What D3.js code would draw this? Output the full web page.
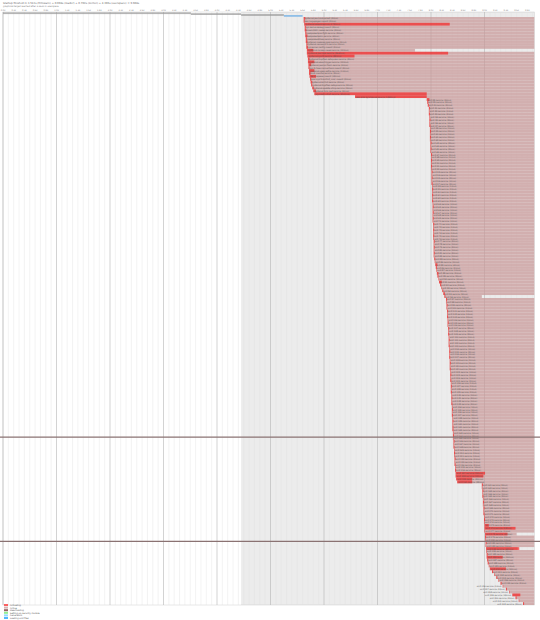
<!DOCTYPE html>
<html><head><meta charset="utf-8">
<script src="https://cdn.jsdelivr.net/npm/d3@7"></script>
<style>body{margin:0;background:#fff}text{font-family:"DejaVu Sans",sans-serif}</style>
</head><body><svg id="c" width="540" height="620"></svg>
<script>
const title = "Startup finished in 3.512s (firmware) + 0.998s (loader) + 0.702s (kernel) + 4.396s (userspace) = 9.608s";
const subtitle = "graphical.target reached after 4.352s in userspace";
const bootPhases = ["firmware","loader","kernel","initrd"];
const bootStart = [0, 3.512, 4.45, 5.25];
const bootEnd = [3.512, 4.45, 5.25, 5.60];
const starts = [
5.62,5.62,5.63,5.64,5.64,5.65,5.65,5.66,5.66,5.67,5.67,5.68,5.68,5.69,5.70,5.70,5.71,5.71,5.72,5.72,5.73,5.74,5.75,5.76,5.78,5.80,5.82,6.58,
7.92,7.93,7.94,
7.96,7.96,7.96,7.97,7.97,7.97,7.97,7.98,7.98,7.98,7.98,7.98,7.99,7.99,7.99,7.99,8.00,8.00,8.00,8.00,8.00,8.00,8.01,8.01,8.01,8.01,8.01,8.02,8.02,8.02,8.02,8.02,8.02,8.03,8.03,8.03,8.03,8.03,8.03,8.03,8.04,8.04,8.04,8.04,8.04,8.04,8.05,8.05,8.05,8.05,8.05,8.05,
8.06,8.07,8.08,8.09,8.10,8.11,8.12,8.14,8.15,8.17,8.19,8.21,8.23,8.25,
8.28,8.28,8.29,8.29,8.30,8.30,8.30,8.31,8.31,8.31,8.32,8.32,8.32,8.33,8.33,8.33,8.33,8.34,8.34,8.34,8.34,8.35,8.35,8.35,8.35,8.36,8.36,8.36,8.36,8.37,8.37,8.37,8.37,8.38,8.38,8.38,8.38,8.39,8.39,8.39,8.39,8.40,8.40,8.40,8.40,
8.40,8.41,8.41,8.41,8.42,8.42,8.42,8.43,8.43,8.43,8.44,8.44,8.44,8.45,8.45,
8.46,8.46,8.47,8.49,
8.95,8.95,8.96,8.96,8.96,8.97,8.97,8.97,8.98,8.98,8.98,8.99,8.99,8.99,9.00,9.00,9.00,9.01,9.01,9.01,9.02,9.02,9.03,9.03,9.04,9.04,9.05,
9.06,9.08,9.10,9.14,9.18,9.22,9.26,9.30,9.34,9.40,9.46,9.52,9.58,9.64,9.72];
const actDur = [
0.03,0.02,2.72,0.02,0.03,0.02,0.04,0.02,0.03,0.02,0.03,0.12,2.64,0.88,0.03,0.12,0.05,0.02,0.10,0.03,0.12,0.02,0.03,0.02,0.03,0.05,2.10,1.34,
0.05,0.02,0.02,
0.02,0.01,0.02,0.01,0.02,0.01,0.02,0.01,0.02,0.01,0.02,0.01,0.02,0.01,0.02,0.01,0.02,0.01,0.02,0.01,0.02,0.01,0.02,0.01,0.02,0.01,0.02,0.01,0.02,0.01,0.02,0.01,0.02,0.01,0.02,0.01,0.02,0.01,0.02,0.01,0.02,0.01,0.02,0.01,0.02,0.01,0.02,0.01,0.02,0.01,0.02,0.01,
0.02,0.01,0.04,0.02,0.01,0.03,0.02,0.01,0.05,0.02,0.01,0.02,0.03,0.02,
0.02,0.01,0.02,0.01,0.02,0.01,0.02,0.01,0.02,0.01,0.02,0.01,0.02,0.01,0.02,0.01,0.02,0.01,0.02,0.01,0.02,0.01,0.02,0.01,0.02,0.01,0.02,0.01,0.02,0.01,0.02,0.01,0.02,0.01,0.02,0.01,0.02,0.01,0.02,0.01,0.02,0.01,0.02,0.01,0.02,
0.02,0.01,0.02,0.01,0.02,0.01,0.02,0.01,0.02,0.01,0.02,0.01,0.02,0.01,0.02,
0.55,0.52,0.30,0.28,
0.02,0.01,0.02,0.01,0.02,0.01,0.02,0.01,0.02,0.01,0.02,0.01,0.02,0.01,0.08,0.58,0.01,0.42,0.02,0.01,0.02,0.01,0.62,0.01,0.02,0.30,0.02,
0.02,0.01,0.30,0.02,0.01,0.02,0.01,0.02,0.01,0.02,0.01,0.15,0.02,0.01,0.02];
const shortRows = [[11,7.70],[96,8.95],[178,9.60],[183,9.62]];
const unitNames = ["systemd-journald.socket","dev-hugepages.mount","systemd-udevd.service","sys-kernel-debug.mount","kmod-static-nodes.service","modprobe@configfs.service","modprobe@drm.service","modprobe@fuse.service","systemd-modules-load.service","systemd-remount-fs.service","sys-kernel-config.mount","systemd-random-seed.service","systemd-journald.service","systemd-sysctl.service","systemd-tmpfiles-setup-dev.service","systemd-udev-trigger.service","systemd-journal-flush.service","sys-fs-fuse-connections.mount","systemd-udev-settle.service","lvm2-monitor.service","dev-mqueue.mount","proc-sys-fs-binfmt_misc.mount","systemd-binfmt.service","systemd-tmpfiles-setup.service","systemd-update-utmp.service","systemd-fsck-root.service","plymouth-start.service","dev-disk-by\\x2duuid.device"];
const svg = d3.select("#c");
const x = d3.scaleLinear().domain([0,10]).range([3,538]);
const y = d3.scaleBand().domain(d3.range(starts.length)).range([17,605]).paddingInner(0.03);
const endT = 9.93;
svg.append("rect").attr("x",x(0)).attr("y",12).attr("width",x(endT)-x(0)).attr("height",593).attr("fill","#fff").attr("stroke","#d0d0d0").attr("stroke-width",0.5);
svg.append("rect").attr("x",x(4.45)).attr("y",12).attr("width",x(endT)-x(4.45)).attr("height",593).attr("fill","rgb(150,150,150)").attr("fill-opacity",0.18);
const ticks01 = d3.range(0,100).map(d=>d/10);
svg.append("g").selectAll("line").data(ticks01).join("line")
 .attr("x1",d=>x(d)).attr("x2",d=>x(d)).attr("y1",12).attr("y2",605)
 .attr("stroke",(d,i)=>i%10===0?"#b5b5b5":"#e0e0e0").attr("stroke-width",(d,i)=>i%10===0?0.6:0.4);
svg.append("g").selectAll("text").data(ticks01.filter((d,i)=>i%2===0)).join("text")
 .attr("x",d=>x(d)).attr("y",10.5).attr("text-anchor","middle").attr("font-size",2.2).attr("fill","#888").text(d=>d.toFixed(1)+"s");
svg.append("g").selectAll("rect").data(bootPhases).join("rect")
 .attr("x",(d,i)=>x(bootStart[i])).attr("width",(d,i)=>x(bootEnd[i])-x(bootStart[i]))
 .attr("y",(d,i)=>12.3+i*0.9).attr("height",1.8)
 .attr("fill",(d,i)=>i===3?"rgb(120,180,230)":"rgb(150,150,150)").attr("fill-opacity",(d,i)=>i===3?0.8:0.7);
const g = svg.append("g");
const endOf = i => { const s = shortRows.find(r=>r[0]===i); return s?s[1]:endT; };
g.selectAll("rect.active").data(starts).join("rect").attr("class","active")
 .attr("x",d=>x(d)).attr("y",(d,i)=>y(i)).attr("width",(d,i)=>x(endOf(i))-x(d)).attr("height",y.bandwidth())
 .attr("fill","rgb(200,150,150)").attr("fill-opacity",0.7);
g.selectAll("rect.act").data(starts).join("rect").attr("class","act")
 .attr("x",d=>x(d)).attr("y",(d,i)=>y(i)).attr("width",(d,i)=>x(d+actDur[i])-x(d)).attr("height",y.bandwidth())
 .attr("fill","rgb(255,0,0)").attr("fill-opacity",0.55);
g.selectAll("text").data(starts).join("text")
 .attr("x",d=>d>9.3?x(d)-1:x(d)+1).attr("text-anchor",d=>d>9.3?"end":"start")
 .attr("y",(d,i)=>y(i)+y.bandwidth()-0.4).attr("font-size",2.1).attr("fill","#555")
 .text((d,i)=>(unitNames[i]||("unit-"+i+".service"))+" ("+Math.round(actDur[i]*1000)+"ms)");
const sepRows = [145,181];
svg.append("g").selectAll("line").data(sepRows).join("line")
 .attr("x1",0).attr("x2",540).attr("y1",d=>y(d)).attr("y2",d=>y(d)).attr("stroke","#8a7272").attr("stroke-width",1.2);
svg.append("text").attr("x",3).attr("y",3.5).attr("font-size",2.6).attr("fill","#666").text(title);
svg.append("text").attr("x",3).attr("y",6.5).attr("font-size",2.2).attr("fill","#777").text(subtitle);
const legNames = ["Activating","Active","Deactivating","Setting up security module","Generators","Loading unit files"];
const legCols = ["rgba(255,0,0,0.6)","rgba(200,150,150,0.7)","rgb(150,100,100)","rgb(144,238,144)","rgba(102,204,255,0.7)","rgb(82,184,255)"];
const lg = svg.append("g");
lg.selectAll("rect").data(legNames).join("rect").attr("x",4).attr("y",(d,i)=>604+i*2.6).attr("width",4).attr("height",2).attr("fill",(d,i)=>legCols[i]);
lg.selectAll("text").data(legNames).join("text").attr("x",10).attr("y",(d,i)=>606+i*2.6).attr("font-size",2.2).attr("fill","#555").text(d=>d);
</script></body></html>
